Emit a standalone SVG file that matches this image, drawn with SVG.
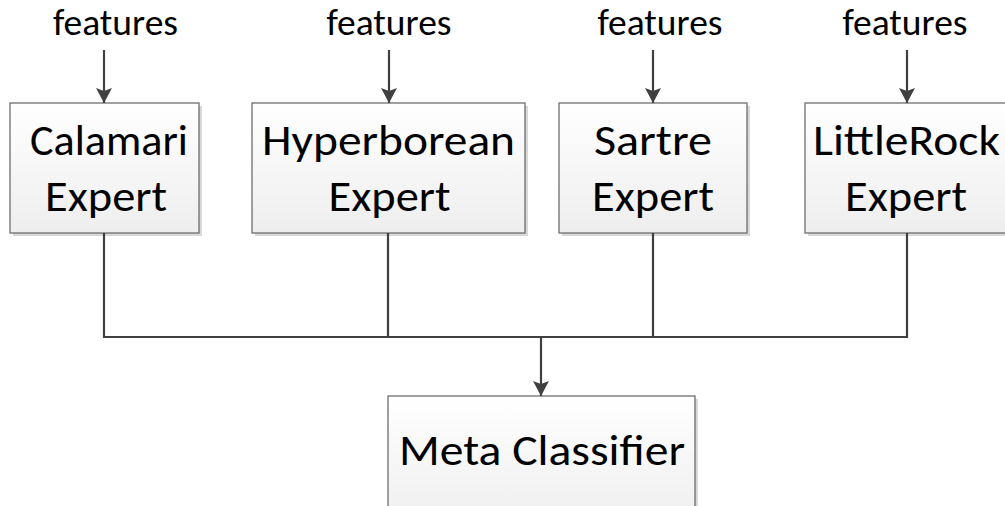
<svg xmlns="http://www.w3.org/2000/svg" width="1005" height="506" viewBox="0 0 1005 506">
<defs>
<linearGradient id="g" x1="0" y1="0" x2="0" y2="1">
<stop offset="0" stop-color="#ffffff"/>
<stop offset="1" stop-color="#eeeeee"/>
</linearGradient>
<marker id="arr" markerWidth="16" markerHeight="15" refX="8" refY="15" orient="auto-start-reverse" markerUnits="userSpaceOnUse" viewBox="0 0 16 15">
<path d="M0,0 L8,3 L16,0 L8,15 Z" fill="#404040"/>
</marker>
<marker id="arrd" markerWidth="16" markerHeight="15" refX="8" refY="15" orient="0" markerUnits="userSpaceOnUse" viewBox="0 0 16 15">
<path d="M0,0 L8,3 L16,0 L8,15 Z" fill="#404040"/>
</marker>
</defs>
<style>
.box{fill:url(#g);stroke:#6e6e6e;stroke-width:1.3}
.sh{fill:#d8d8d8}
.t{font-family:Carlito,Calibri,Lato,"Open Sans",sans-serif;font-size:44px;fill:#000;text-anchor:middle}
.f{font-family:Carlito,Calibri,Lato,"Open Sans",sans-serif;font-size:36px;fill:#000;text-anchor:middle}
.c{fill:none;stroke:#404040;stroke-width:2.2}
</style>
<rect width="1005" height="506" fill="#fff"/>

<g id="calamari">
<rect class="sh" x="13" y="106" width="189" height="130"/>
<rect class="box" x="10" y="103" width="189" height="130"/>
<text class="t" x="109" y="155" textLength="158" lengthAdjust="spacingAndGlyphs">Calamari</text>
<text class="t" x="106" y="211" textLength="122" lengthAdjust="spacingAndGlyphs">Expert</text>
</g>
<g id="hyperborean">
<rect class="sh" x="255" y="106" width="273" height="130"/>
<rect class="box" x="252" y="103" width="273" height="130"/>
<text class="t" x="388.5" y="155" textLength="253" lengthAdjust="spacingAndGlyphs">Hyperborean</text>
<text class="t" x="389.5" y="211" textLength="122" lengthAdjust="spacingAndGlyphs">Expert</text>
</g>
<g id="sartre">
<rect class="sh" x="562" y="106" width="188" height="130"/>
<rect class="box" x="559" y="103" width="188" height="130"/>
<text class="t" x="653" y="155" textLength="118" lengthAdjust="spacingAndGlyphs">Sartre</text>
<text class="t" x="653" y="211" textLength="122" lengthAdjust="spacingAndGlyphs">Expert</text>
</g>
<g id="littlerock">
<rect class="sh" x="808" y="106" width="204" height="130"/>
<rect class="box" x="805" y="103" width="204" height="130"/>
<text class="t" x="906.5" y="155" textLength="187" lengthAdjust="spacingAndGlyphs">LittleRock</text>
<text class="t" x="906" y="211" textLength="122" lengthAdjust="spacingAndGlyphs">Expert</text>
</g>
<g id="meta">
<rect class="sh" x="391" y="399" width="307" height="130"/>
<rect class="box" x="388" y="396" width="307" height="130"/>
<text class="t" x="542" y="465" textLength="286" lengthAdjust="spacingAndGlyphs">Meta Classifier</text>
</g>

<g id="labels">
<text class="f" x="115.5" y="35" textLength="125" lengthAdjust="spacingAndGlyphs">features</text>
<text class="f" x="389" y="35" textLength="125" lengthAdjust="spacingAndGlyphs">features</text>
<text class="f" x="660" y="35" textLength="125" lengthAdjust="spacingAndGlyphs">features</text>
<text class="f" x="905" y="35" textLength="125" lengthAdjust="spacingAndGlyphs">features</text>
</g>

<g id="connectors">
<line class="c" x1="104" y1="50" x2="104" y2="103" marker-end="url(#arrd)"/>
<line class="c" x1="389" y1="50" x2="389" y2="103" marker-end="url(#arrd)"/>
<line class="c" x1="653" y1="50" x2="653" y2="103" marker-end="url(#arrd)"/>
<line class="c" x1="907" y1="50" x2="907" y2="103" marker-end="url(#arrd)"/>
<polyline class="c" points="104,233 104,337 907,337 907,233"/>
<line class="c" x1="388" y1="233" x2="388" y2="337"/>
<line class="c" x1="653" y1="233" x2="653" y2="337"/>
<line class="c" x1="541" y1="337" x2="541" y2="396" marker-end="url(#arrd)"/>
</g>
</svg>
